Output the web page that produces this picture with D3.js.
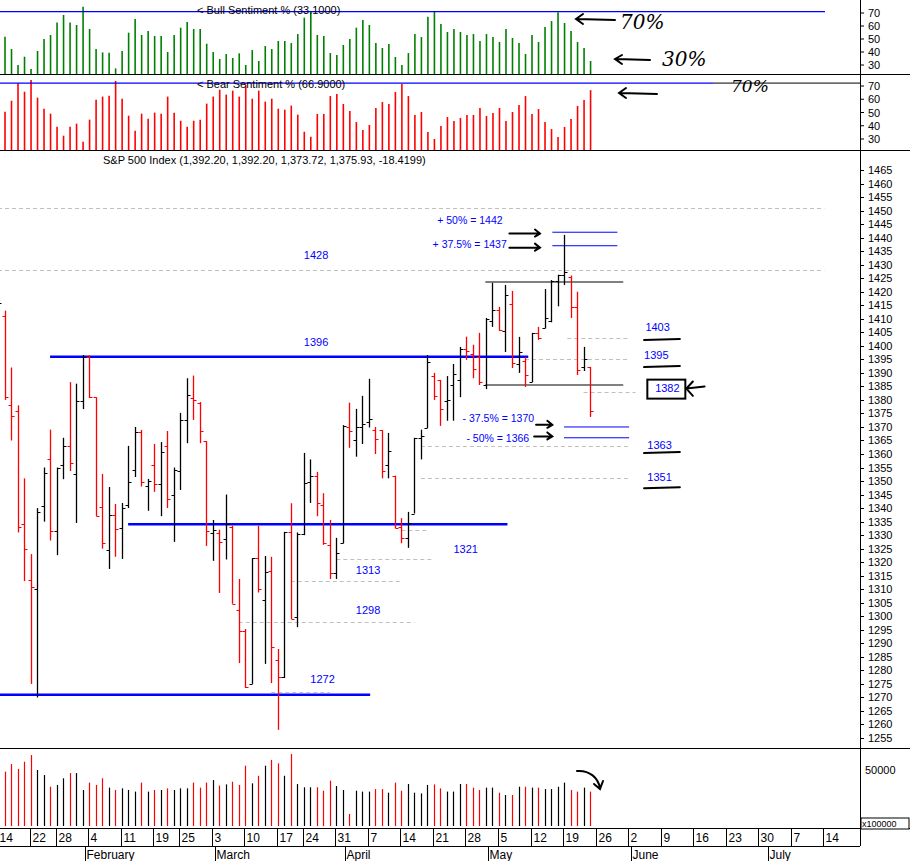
<!DOCTYPE html>
<html><head><meta charset="utf-8">
<script src="https://cdn.jsdelivr.net/npm/d3@7"></script>
<style>body{margin:0;background:#fff}svg{display:block;font-family:"Liberation Sans",Arial,sans-serif}</style>
</head><body><svg id="c" width="910" height="861"></svg>
<script>
// ---- data (trading-day index 0 = Jan 14 2008) ----
const opens=[1404,1411,1378,1376,1334,1313.5,1310,1340.6,1358,1331.5,1356,1363,1352.6,1379.7,1396,1381,1340.5,1324.5,1337.5,1332.6,1341,1354,1368,1348,1356,1348.9,1363,1345,1353.7,1372.6,1380.7,1378.8,1364.8,1330.9,1330.9,1328.5,1333,1302.3,1294.5,1275,1321.5,1306,1316.8,1283.8,1277.6,1331,1299.7,1330.5,1349.5,1352,1341,1326.5,1316,1327,1370,1365,1370,1372,1369,1368.8,1356,1352,1333,1329,1338,1366,1369.6,1389,1387.4,1379.5,1385.6,1387.5,1399,1397,1395.7,1385.5,1409,1413.3,1405.5,1415.6,1393.3,1394.5,1386.6,1404.6,1406.5,1409,1424,1426,1425.5,1414.4,1392,1392.2];
const highs=[1417,1413,1392,1378,1351,1323,1340,1355,1369,1355,1366,1386.6,1386,1396.6,1396.5,1381,1352.6,1347.8,1341.5,1341.9,1363,1370,1368.9,1350.8,1363.7,1364.4,1368.5,1355,1375.2,1388,1389,1379.2,1364.8,1335.6,1332,1345,1333.5,1313.8,1295.3,1321.5,1333.5,1322.3,1322,1287.9,1331.2,1341.8,1331,1360.4,1358,1353.4,1345.5,1335.6,1329,1370.7,1379,1376.7,1381.5,1387.8,1370,1368.8,1367.8,1352,1336.3,1338.6,1366,1369,1396.6,1390,1387.4,1388.8,1393.3,1399.6,1403.4,1400.4,1404.8,1410.3,1423.3,1414.4,1422.5,1420.3,1403.3,1395.9,1404.8,1407,1421,1424.3,1426.3,1441,1426,1420,1399.6,1392.2];
const lows=[1404,1380,1365,1331,1313,1275,1270,1335,1328,1322.6,1350.7,1353.7,1334.5,1376.6,1380.7,1337,1325,1317.5,1322,1321.2,1340,1351.5,1348,1339,1346,1337,1340,1327.5,1346.7,1364,1372.6,1364,1326,1320.5,1308.6,1321,1304.6,1282.7,1273.5,1275,1308.8,1282.4,1275.3,1258,1277.2,1299,1296,1330,1341.9,1337,1326.4,1313.8,1313.8,1327,1362.3,1359,1363.7,1369.8,1360,1351,1351,1332.5,1327,1325.3,1338,1358,1369.6,1380,1370.4,1372.3,1372.3,1381,1394.8,1388,1385.5,1384,1407,1405.5,1397.7,1391.8,1390,1384.8,1386.6,1402.2,1406.5,1408.7,1414.6,1422.5,1410.3,1389.2,1390.7,1373.7];
const closes=[1416,1381,1374,1333,1325,1311,1338.6,1353,1331.5,1355,1363,1356.7,1379.7,1396,1381,1337,1327,1337.5,1332.4,1340,1349.6,1368,1349.6,1350,1349,1360.8,1343.4,1354,1372.6,1381.8,1380,1368.5,1331.5,1332,1327.4,1334,1304.6,1294.6,1274,1321.5,1310,1316.2,1288.7,1277.6,1331,1299,1330.5,1349.3,1352,1341.9,1327.1,1316,1323.4,1370.2,1368.5,1370,1371,1373,1365.5,1353.7,1361,1332.8,1329,1334.4,1366,1366.5,1394,1381.5,1376.6,1379.9,1389.6,1399,1398.2,1391.4,1386.6,1410,1413.3,1405.7,1418.8,1393.6,1397.7,1389.2,1404.6,1403,1410.3,1424,1426,1427.3,1414.4,1391,1395,1375.9];
const volumes=[43900,49100,53300,50600,54600,58300,50000,47200,40700,41700,45400,48300,48300,38900,43000,41700,45400,40200,38900,39800,38900,38000,43000,38000,38900,38900,39800,38900,39800,39800,43000,40200,43000,44400,41300,42000,43500,41700,52400,42600,46800,52400,55600,53700,46800,58900,42200,40400,40400,40400,38500,44100,41100,38900,25600,38500,38000,38000,39400,39400,37400,43000,38500,42200,37400,37000,41700,42000,39800,38000,38000,42200,42200,40200,38900,40200,40200,37400,36100,36100,40700,40700,40200,40200,39400,39400,40700,43000,38900,38000,40200,38000];
const bull=[51.8,42.3,30,36.4,26.9,40.8,50,53.1,62.6,68.5,62.6,60.8,74.9,57.7,42.3,39.7,39.5,27.4,40.8,54.9,65.4,53.1,56.2,52.3,52.3,40,53.1,58.7,63.1,57.7,57.7,46.4,40,34.6,38.5,35.4,39,30,41.5,33.1,44.6,42.3,48.5,48.5,46.9,53.8,66.4,71,53.1,52.3,39.2,37.7,45.4,50,58.7,64.6,60.8,46.9,43.1,46.2,36.2,30,39.2,53.8,51.5,67.2,71.5,61.5,55.4,57.7,55.4,53.1,53.8,48.5,53.8,51.5,47.7,57.7,50.8,46.9,38.5,53.1,47.7,59.2,63.8,70.5,62.3,56.2,47.7,43.1,33.1];
const bear=[50.6,58.9,72,65.7,74.5,61.2,52.9,49.1,39.3,32.5,39.3,41.6,28,44.6,59.7,62,62.7,73.8,60.4,47.6,36.3,49.1,45.3,49.9,49.1,62,49.9,43.8,39.3,43.8,44.6,56.7,62,67.2,63.5,66.5,62,70.8,60.4,66.5,58.2,60.4,52.9,52.1,55.2,48.4,35.5,31.7,48.9,48.9,62.4,64,56.4,51.1,42.8,36.8,40.6,53.4,57.9,56.4,65.5,71.5,62.4,48.1,50.4,35.3,30,39.8,46.6,43.6,45.9,48.1,48.1,53.4,47.4,49.6,53.4,43.6,50.4,55.7,62.4,48.9,52.6,42.8,37.5,31.5,39.1,45.1,54.9,59.4,66.9];
const weekIdx=[0,5,9,14,19,24,28,33,38,43,47,52,57,62,67,72,77,82,87,92,97,102,107,112,117,122,127];
const weekLabels=["14","22","28","4","11","19","25","3","10","17","24","31","7","14","21","28","5","12","19","26","2","9","16","23","30","7","14"];
const monthIdx=[13,33,53,75,97,118];
const monthLabels=["February","March","April","May","June","July"];
const priceTicks=d3.range(1255,1466,5);
const sentTicks=[70,60,50,40,30];

const svg=d3.select("#c");
const x=d3.scaleLinear().domain([0,127]).range([-2,824.3]);
const y=d3.scaleLinear().domain([1251.3,1472.4]).range([748,150]);
const yBull=d3.scaleLinear().domain([23.1,70]).range([74,13]);
const yBear=d3.scaleLinear().domain([21.7,70]).range([150,86]);
const yVol=d3.scaleLinear().domain([0,50000]).range([860,770]);
const col=i=>closes[i]>=opens[i]?"#000":"#ff0000";
const idx=d3.range(closes.length);

const clip=svg.append("defs").append("clipPath").attr("id","cp").append("rect").attr("x",0).attr("y",0).attr("width",860).attr("height",828);
const g=svg.append("g").attr("clip-path","url(#cp)");

// sentiment bars
g.selectAll(".bu").data(bull).join("line").attr("x1",(d,i)=>x(i+1)+.5).attr("x2",(d,i)=>x(i+1)+.5)
 .attr("y1",74).attr("y2",d=>yBull(d)).attr("stroke","#008000").attr("stroke-width",1.6);
g.selectAll(".be").data(bear).join("line").attr("x1",(d,i)=>x(i+1)+.5).attr("x2",(d,i)=>x(i+1)+.5)
 .attr("y1",150).attr("y2",d=>yBear(d)).attr("stroke","#ff0000").attr("stroke-width",1.6);
g.append("line").attr("x1",0).attr("x2",825).attr("y1",yBull(71.1)).attr("y2",yBull(71.1)).attr("stroke","#0000ff").attr("stroke-width",1.2);
g.append("line").attr("x1",0).attr("x2",713).attr("y1",yBear(72.2)).attr("y2",yBear(72.2)).attr("stroke","#0000ff").attr("stroke-width",1.2);
g.append("line").attr("x1",713).attr("x2",860).attr("y1",yBear(72.2)).attr("y2",yBear(72.2)).attr("stroke","#000").attr("stroke-width",1);
svg.append("text").attr("x",197).attr("y",14).attr("font-size",11).text("< Bull Sentiment % (33.1000)");
svg.append("text").attr("x",197).attr("y",88).attr("font-size",11).text("< Bear Sentiment % (66.9000)");

// reference lines (dashed)
const dashed=[[1451,0,127],[1428,0,127],[1403,87.5,97],[1395,81,97],[1383,90,98],[1363,65,97],[1351,65,97],[1332,62,66],[1321,52,67],[1313,45,62],[1298,37,64],[1272,42,51]];
dashed.forEach(d=>g.append("line").attr("x1",x(d[1])).attr("x2",x(d[2])).attr("y1",Math.round(y(d[0]))+.5).attr("y2",Math.round(y(d[0]))+.5)
 .attr("stroke","#c0c0c0").attr("stroke-dasharray","4,3"));
const blue=[[1396,8,81.5],[1334,20,78.3],[1271,0,57.2]];
blue.forEach(d=>g.append("line").attr("x1",x(d[1])).attr("x2",x(d[2])).attr("y1",y(d[0])).attr("y2",y(d[0])).attr("stroke","#0000ff").attr("stroke-width",2.5));
[[1423.6],[1385.5]].forEach(d=>g.append("line").attr("x1",x(74.9)).attr("x2",x(96.1)).attr("y1",y(d[0])).attr("y2",y(d[0])).attr("stroke","#808080").attr("stroke-width",2));
[[1442,85.2,95.2],[1437,85.2,95.2],[1370,87,97],[1366,87,97]].forEach(d=>g.append("line").attr("x1",x(d[1])).attr("x2",x(d[2])).attr("y1",y(d[0])).attr("y2",y(d[0])).attr("stroke","#0000ff").attr("stroke-width",1));

// price bars
const pb=g.append("g");
idx.forEach(i=>{
  const c=col(i),xi=Math.round(x(i))+.5;
  pb.append("line").attr("x1",xi).attr("x2",xi).attr("y1",y(highs[i])).attr("y2",y(lows[i])).attr("stroke",c).attr("stroke-width",1.3);
  pb.append("line").attr("x1",xi-3).attr("x2",xi).attr("y1",Math.round(y(opens[i]))+.5).attr("y2",Math.round(y(opens[i]))+.5).attr("stroke",c);
  pb.append("line").attr("x1",xi).attr("x2",xi+3).attr("y1",Math.round(y(closes[i]))+.5).attr("y2",Math.round(y(closes[i]))+.5).attr("stroke",c);
});
// volume bars
g.selectAll(".v").data(volumes).join("line").attr("x1",(d,i)=>Math.round(x(i))+.5).attr("x2",(d,i)=>Math.round(x(i))+.5)
 .attr("y1",826).attr("y2",d=>yVol(d)).attr("stroke",(d,i)=>col(i)).attr("stroke-width",1.2);

// blue labels
const blueLabels=[["1428",47,1432],["1396",47,1400],["1272",48,1275.5],["1298",55,1301],["1313",55,1315.5],["1321",70,1323.5],
 ["+ 50% = 1442",67.5,1445],["+ 37.5% = 1437",66.8,1436.3],["- 37.5% = 1370",71.4,1371.8],["- 50% = 1366",72,1364.3],
 ["1403",99.5,1405.5],["1395",99.3,1395],["1382",101,1383],["1363",99.8,1362],["1351",99.8,1350]];
blueLabels.forEach(d=>svg.append("text").attr("x",x(d[1])).attr("y",y(d[2])).attr("font-size",d[0].length>5?10.5:11).attr("fill","#0000ff").text(d[0]));
svg.append("text").attr("x",103).attr("y",164).attr("font-size",11).text("S&P 500 Index (1,392.20, 1,392.20, 1,373.72, 1,375.93, -18.4199)");

// hand-drawn annotations (black)
const hand=svg.append("g").attr("stroke","#000").attr("fill","none").attr("stroke-width",2).attr("stroke-linecap","round");
const arrowR=(i0,i1,p)=>{const a=x(i0),b=x(i1),yy=y(p);hand.append("path").attr("d",`M${a},${yy}L${b},${yy}M${b-5},${yy-4}L${b},${yy}L${b-5},${yy+3}`);};
arrowR(78.6,83.3,1441.5);arrowR(78.6,83.3,1436.3);arrowR(82.7,85.2,1370.8);arrowR(82.4,85.2,1366.5);
[[1402.5],[1392.5],[1360.7],[1347.7]].forEach(d=>hand.append("path").attr("d",`M${x(99.3)},${y(d[0])+1}L${x(104.8)},${y(d[0])}`));
hand.append("rect").attr("x",x(99.8)).attr("y",y(1387.5)).attr("width",38).attr("height",19);
hand.append("path").attr("d",`M${x(105.8)},${y(1384.2)}L${x(108.6)},${y(1385)}M${x(106.8)},${y(1386.8)}L${x(105.8)},${y(1384.2)}L${x(106.8)},${y(1381.5)}`);
hand.append("path").attr("d","M615,20L577,19M583,14L576,19L583,24");
hand.append("path").attr("d","M650,60L616,59M622,55L615,59L622,64");
hand.append("path").attr("d","M657,94L620,93M626,88L619,93L626,98");
hand.append("path").attr("d","M577,771C590,770 598,778 600,788M594,784L600,789L603,781");
svg.append("text").attr("x",620).attr("y",29).attr("font-size",20).attr("font-style","italic").attr("font-family","DejaVu Serif").text("70%");
svg.append("text").attr("x",662).attr("y",66).attr("font-size",20).attr("font-style","italic").attr("font-family","DejaVu Serif").text("30%");
svg.append("text").attr("x",731).attr("y",92).attr("font-size",17).attr("font-style","italic").attr("font-family","DejaVu Serif").text("70%");

// frames
const frame=svg.append("g").attr("stroke","#000").attr("stroke-width",1);
[74,150,748,828].forEach(v=>frame.append("line").attr("x1",0).attr("x2",910).attr("y1",v+.5).attr("y2",v+.5));
frame.append("line").attr("x1",860.5).attr("x2",860.5).attr("y1",0).attr("y2",846);
frame.append("line").attr("x1",0).attr("x2",860).attr("y1",846.5).attr("y2",846.5);

// right axes
const ax=svg.append("g").attr("font-size",11);
priceTicks.forEach(p=>{ax.append("line").attr("x1",860).attr("x2",864).attr("y1",Math.round(y(p))+.5).attr("y2",Math.round(y(p))+.5).attr("stroke","#000");
 ax.append("text").attr("x",868).attr("y",y(p)+4).text(p);});
sentTicks.forEach(v=>{ax.append("text").attr("x",868).attr("y",yBull(v)+4).text(v);ax.append("text").attr("x",868).attr("y",yBear(v)+4).text(v);
 ax.append("line").attr("x1",860).attr("x2",864).attr("y1",yBull(v)).attr("y2",yBull(v)).attr("stroke","#000");
 ax.append("line").attr("x1",860).attr("x2",864).attr("y1",yBear(v)).attr("y2",yBear(v)).attr("stroke","#000");});
ax.append("text").attr("x",865).attr("y",774).text("50000");
ax.append("rect").attr("x",861).attr("y",818).attr("width",48).attr("height",11).attr("fill","#fff").attr("stroke","#000");
ax.append("text").attr("x",862).attr("y",827).attr("font-size",9).text("x100000");

// bottom axis
const bx=svg.append("g").attr("font-size",12);
weekIdx.forEach((w,k)=>{const xx=Math.round(x(w))-0.5;
 bx.append("line").attr("x1",xx).attr("x2",xx).attr("y1",828).attr("y2",846).attr("stroke","#000");
 bx.append("text").attr("x",xx+2).attr("y",842).text(weekLabels[k]);});
monthIdx.forEach((m,k)=>{const xx=Math.round(x(m))+2.5;
 bx.append("line").attr("x1",xx).attr("x2",xx).attr("y1",846).attr("y2",861).attr("stroke","#000");
 bx.append("text").attr("x",xx+1).attr("y",859).text(monthLabels[k]);});
</script></body></html>
